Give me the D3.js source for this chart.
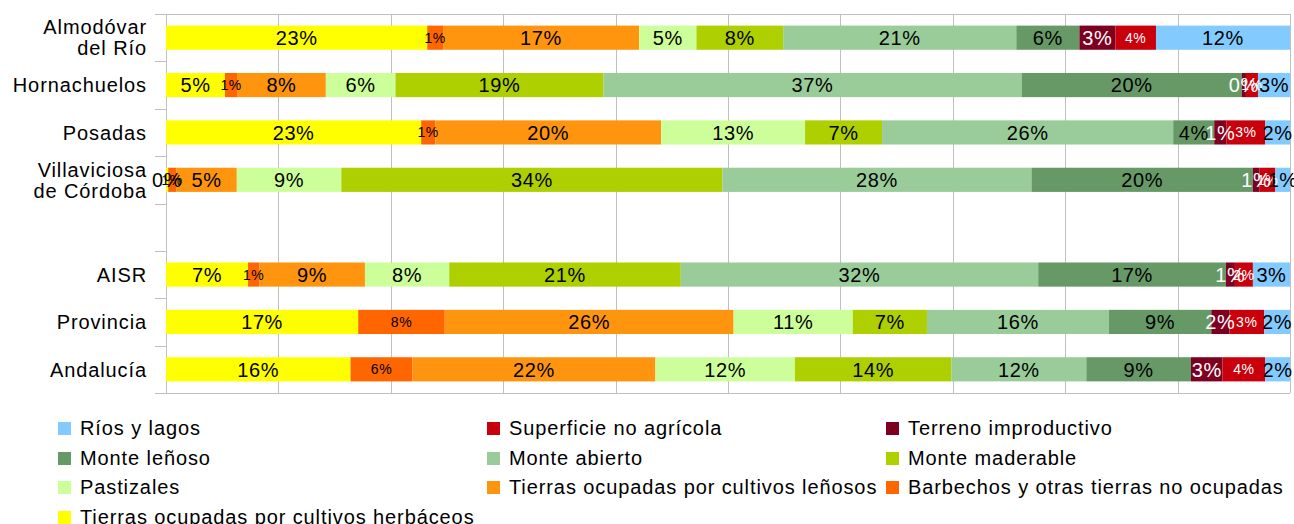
<!DOCTYPE html>
<html>
<head>
<meta charset="UTF-8">
<title>Usos del suelo</title>
<style>
    body { margin: 0; background: #fff; }
    text { font-family: "Liberation Sans", Arial, sans-serif; }
    .grid line { stroke: #c0c0c0; stroke-width: 1px; }
</style>
</head>
<body>
<div id="chart"></div>
<script src="https://d3js.org/d3.v7.min.js"></script>
<script>
    // categorías (la vacía separa municipios de los agregados)
    var categories = ["Almodóvar\ndel Río", "Hornachuelos", "Posadas", "Villaviciosa\nde Córdoba", "", "AISR", "Provincia", "Andalucía"];

    var seriesNames = [
        "Tierras ocupadas por cultivos herbáceos",
        "Barbechos y otras tierras no ocupadas",
        "Tierras ocupadas por cultivos leñosos",
        "Pastizales",
        "Monte maderable",
        "Monte abierto",
        "Monte leñoso",
        "Terreno improductivo",
        "Superficie no agrícola",
        "Ríos y lagos"
    ];
    var seriesColors = ["#ffff00", "#ff6600", "#ff950e", "#ccff99", "#aecf00", "#99cc99", "#669966", "#7e0021", "#c9000b", "#83caff"];

    // % por serie, en el orden de las categorías
    var herbaceos   = [23.2, 5.25, 22.7, 0.2, 0, 7.3, 17.1, 16.4];
    var barbechos   = [1.4, 1.07, 1.25, 0.7, 0, 1.0, 7.7, 5.5];
    var lenosos     = [17.4, 7.9, 20.1, 5.4, 0, 9.4, 25.7, 21.6];
    var pastizales  = [5.1, 6.2, 12.8, 9.3, 0, 7.5, 10.6, 12.4];
    var maderable   = [7.7, 18.5, 6.85, 33.9, 0, 20.6, 6.6, 13.9];
    var abierto     = [20.7, 37.2, 25.9, 27.5, 0, 31.8, 16.2, 12.0];
    var monteLenoso = [5.6, 19.6, 3.65, 19.7, 0, 16.7, 9.1, 9.3];
    var improductivo = [3.2, 0.36, 1.07, 0.6, 0, 0.8, 1.6, 2.8];
    var noAgricola  = [3.6, 1.07, 3.47, 1.4, 0, 1.6, 3.1, 3.8];
    var rios        = [11.9, 2.85, 2.2, 1.3, 0, 3.3, 2.3, 2.2];

    var seriesValues = [herbaceos, barbechos, lenosos, pastizales, maderable, abierto, monteLenoso, improductivo, noAgricola, rios];

    // series con etiqueta pequeña y/o blanca
    var smallLabel = {1: true, 8: true};
    var whiteLabel = {7: true, 8: true};

    var width = 1294, height = 524;
    var plotLeft = 166, plotRight = 1290, plotTop = 14, plotBottom = 393;

    var rows = categories.map(function (c, i) {
        var r = {idx: i};
        seriesNames.forEach(function (s, j) { r[j] = seriesValues[j][i]; });
        return r;
    });

    var svg = d3.select("#chart").append("svg")
        .attr("width", width)
        .attr("height", height);

    var x = d3.scaleLinear().domain([0, 1]).range([plotLeft, plotRight]);
    var y = d3.scaleBand().domain(d3.range(categories.length)).range([plotTop, plotBottom]).paddingInner(0.49).paddingOuter(0.245);
    var yBand = d3.scaleBand().domain(d3.range(categories.length)).range([plotTop, plotBottom]);

    // rejilla vertical
    var grid = svg.append("g").attr("class", "grid");
    grid.selectAll("line.v")
        .data(x.ticks(10))
        .enter().append("line")
        .attr("x1", function (d) { return Math.round(x(d)) + 0.5; })
        .attr("x2", function (d) { return Math.round(x(d)) + 0.5; })
        .attr("y1", plotTop)
        .attr("y2", plotBottom);
    // bordes y marcas del eje de categorías
    grid.append("line").attr("x1", plotLeft - 11).attr("x2", plotRight).attr("y1", plotTop + 0.5).attr("y2", plotTop + 0.5);
    grid.append("line").attr("x1", plotLeft - 11).attr("x2", plotRight).attr("y1", plotBottom + 0.5).attr("y2", plotBottom + 0.5);
    grid.selectAll("line.tick")
        .data(d3.range(1, categories.length))
        .enter().append("line")
        .attr("x1", plotLeft - 11).attr("x2", plotLeft)
        .attr("y1", function (d) { return Math.round(yBand(d)) + 0.5; })
        .attr("y2", function (d) { return Math.round(yBand(d)) + 0.5; });

    var stack = d3.stack()
        .keys(d3.range(seriesNames.length))
        .offset(d3.stackOffsetExpand);
    var stacked = stack(rows.filter(function (r) { return categories[r.idx] !== ""; }));

    var layers = svg.selectAll("g.layer")
        .data(stacked)
        .enter().append("g")
        .attr("class", "layer")
        .attr("fill", function (d) { return seriesColors[d.key]; });

    layers.selectAll("rect")
        .data(function (d) { return d; })
        .enter().append("rect")
        .attr("x", function (d) { return x(d[0]); })
        .attr("width", function (d) { return x(d[1]) - x(d[0]); })
        .attr("y", function (d) { return y(d.data.idx); })
        .attr("height", y.bandwidth());

    // etiquetas de porcentaje (encima de todas las barras)
    var labels = svg.append("g");
    stacked.forEach(function (layer) {
        labels.selectAll(null)
            .data(layer)
            .enter().append("text")
            .attr("x", function (d) { return (x(d[0]) + x(d[1])) / 2; })
            .attr("y", function (d) { return y(d.data.idx) + y.bandwidth() / 2; })
            .attr("dy", "0.36em")
            .attr("text-anchor", "middle")
            .attr("font-size", smallLabel[layer.key] ? 14 : 20)
            .attr("letter-spacing", smallLabel[layer.key] ? 0.5 : 0.6)
            .attr("fill", whiteLabel[layer.key] ? "#ffffff" : "#000000")
            .text(function (d) { return Math.round((d[1] - d[0]) * 100) + "%"; });
    });

    // nombres de categoría
    var catLabels = svg.selectAll("text.cat")
        .data(categories)
        .enter().append("text")
        .attr("class", "cat")
        .attr("text-anchor", "end")
        .attr("font-size", 20)
        .attr("letter-spacing", 0.9)
        .attr("fill", "#000");
    catLabels.each(function (c, i) {
        var lines = c.split("\n");
        var cy = yBand(i) + yBand.bandwidth() / 2;
        var t = d3.select(this);
        lines.forEach(function (l, k) {
            t.append("tspan")
                .attr("x", 147)
                .attr("y", cy + (k - (lines.length - 1) / 2) * 21)
                .attr("dy", "0.36em")
                .text(l);
        });
    });

    // leyenda (orden inverso, 3 columnas)
    var legendOrder = d3.range(seriesNames.length).reverse();
    var colX = [58, 487, 886];
    var rowY = [428, 458, 487, 517];
    var legend = svg.selectAll("g.legend")
        .data(legendOrder)
        .enter().append("g")
        .attr("class", "legend")
        .attr("transform", function (d, i) {
            return "translate(" + colX[i % 3] + "," + rowY[Math.floor(i / 3)] + ")";
        });
    legend.append("rect")
        .attr("x", 0).attr("y", -6)
        .attr("width", 13).attr("height", 13)
        .attr("fill", function (d) { return seriesColors[d]; });
    legend.append("text")
        .attr("x", 22)
        .attr("dy", "0.36em")
        .attr("font-size", 20)
        .attr("letter-spacing", 0.9)
        .attr("fill", "#000")
        .text(function (d) { return seriesNames[d]; });
</script>
</body>
</html>
